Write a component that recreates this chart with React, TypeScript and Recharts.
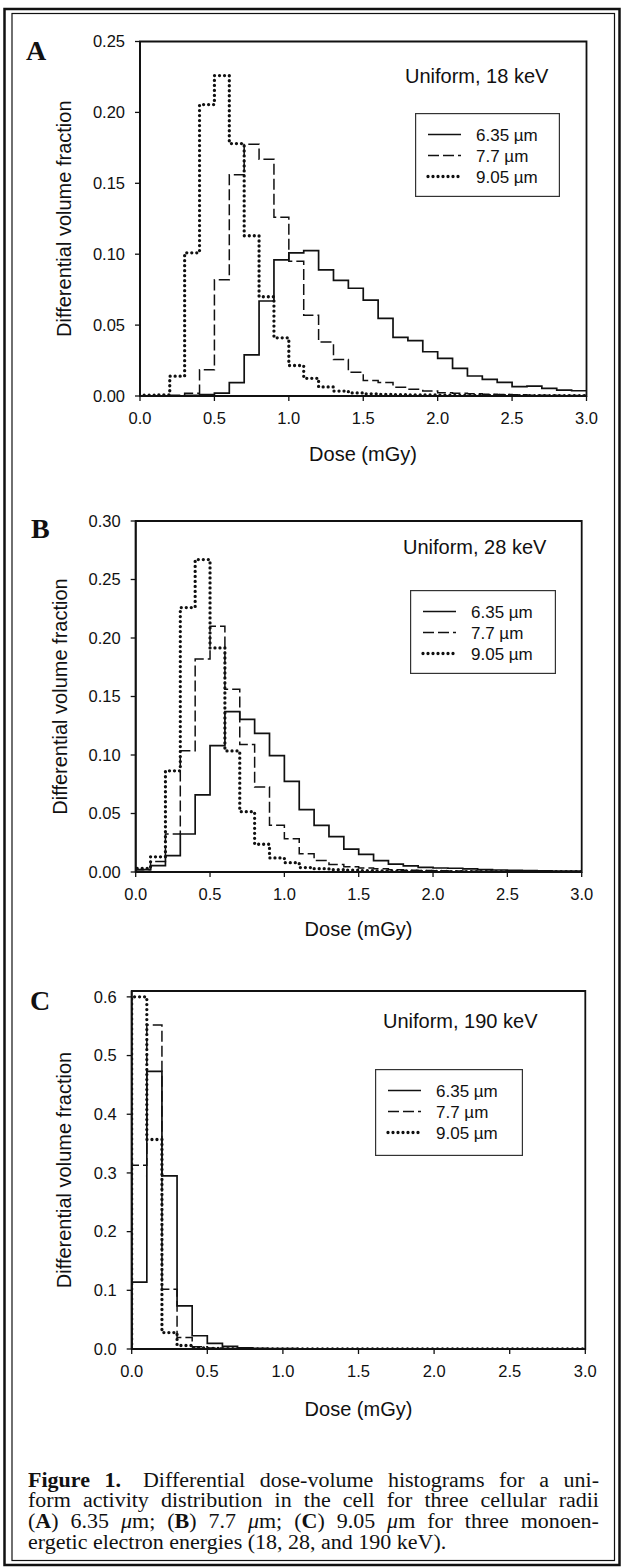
import React from 'react';
import { LineChart, Line, XAxis, YAxis, ReferenceArea, Legend } from 'recharts';

// ---------- data ----------
const doseBinStarts = [0.0, 0.1, 0.2, 0.3, 0.4, 0.5, 0.6, 0.7, 0.8, 0.9, 1.0, 1.1, 1.2, 1.3, 1.4, 1.5, 1.6, 1.7, 1.8, 1.9, 2.0, 2.1, 2.2, 2.3, 2.4, 2.5, 2.6, 2.7, 2.8, 2.9];
const doseEnd = 3.0;
const doseTicks = [0, 0.5, 1.0, 1.5, 2.0, 2.5, 3.0];
const seriesNames = ['6.35 \u00b5m', '7.7 \u00b5m', '9.05 \u00b5m'];

// Panel A: Uniform, 18 keV
const a635 = [0, 0, 0, 0.0005, 0.001, 0.002, 0.0095, 0.029, 0.067, 0.096, 0.101, 0.1025, 0.089, 0.0815, 0.076, 0.0676, 0.0547, 0.0413, 0.039, 0.0312, 0.0265, 0.0195, 0.0141, 0.0117, 0.0096, 0.0066, 0.007, 0.0054, 0.0042, 0.0037];
const a77 = [0, 0, 0.0005, 0.002, 0.0185, 0.082, 0.156, 0.1775, 0.167, 0.126, 0.095, 0.057, 0.038, 0.0258, 0.0168, 0.011, 0.0096, 0.0061, 0.0047, 0.0035, 0.0023, 0.002, 0.0015, 0.0012, 0.001, 0.0008, 0.0006, 0.0005, 0.0004, 0.0003];
const a905 = [0.0006, 0.0008, 0.014, 0.101, 0.2055, 0.226, 0.178, 0.113, 0.07, 0.041, 0.0215, 0.0125, 0.0064, 0.0035, 0.0022, 0.0015, 0.0012, 0.001, 0.0008, 0.0007, 0.0006, 0.0005, 0.0005, 0.0004, 0.0004, 0.0003, 0.0003, 0.0003, 0.0002, 0.0002];
const aYTicks = [0, 0.05, 0.1, 0.15, 0.2, 0.25];

// Panel B: Uniform, 28 keV
const b635 = [0.002, 0.0055, 0.014, 0.0325, 0.066, 0.108, 0.137, 0.1305, 0.1185, 0.0995, 0.0775, 0.0533, 0.0398, 0.0303, 0.0195, 0.015, 0.0098, 0.0068, 0.0052, 0.004, 0.0034, 0.0032, 0.0026, 0.002, 0.0017, 0.0014, 0.0012, 0.001, 0.0008, 0.0007];
const b77 = [0.002, 0.009, 0.0325, 0.1037, 0.182, 0.21, 0.1563, 0.109, 0.0726, 0.04, 0.0285, 0.0157, 0.0098, 0.0064, 0.0045, 0.0035, 0.0028, 0.002, 0.0016, 0.0012, 0.001, 0.0008, 0.0007, 0.0006, 0.0005, 0.0004, 0.0003, 0.0003, 0.0002, 0.0002];
const b905 = [0.003, 0.013, 0.0865, 0.226, 0.267, 0.1915, 0.1035, 0.0516, 0.0237, 0.012, 0.008, 0.0038, 0.0028, 0.002, 0.0015, 0.0012, 0.001, 0.0008, 0.0007, 0.0006, 0.0005, 0.0004, 0.0004, 0.0003, 0.0003, 0.0003, 0.0002, 0.0002, 0.0002, 0.0002];
const bYTicks = [0, 0.05, 0.1, 0.15, 0.2, 0.25, 0.3];

// Panel C: Uniform, 190 keV
const c635 = [0.114, 0.473, 0.295, 0.0734, 0.0226, 0.0096, 0.0045, 0.002, 0.001, 0.0007, 0.0005, 0.0004, 0.0003, 0.0003, 0.0002, 0.0002, 0.0002, 0.0001, 0.0001, 0.0001, 0.0001, 0.0001, 0.0001, 0.0001, 0.0001, 0.0001, 0.0001, 0.0001, 0.0001, 0.0001];
const c77 = [0.313, 0.552, 0.1016, 0.0198, 0.004, 0.0015, 0.0008, 0.0005, 0.0003, 0.0002, 0.0001, 0.0001, 0.0001, 0.0001, 0.0001, 0.0001, 0.0001, 0.0001, 0.0001, 0.0001, 0.0001, 0.0001, 0.0001, 0.0001, 0.0001, 0.0001, 0.0001, 0.0001, 0.0001, 0.0001];
const c905 = [0.6, 0.357, 0.028, 0.006, 0.002, 0.001, 0.0007, 0.0005, 0.0003, 0.0002, 0.0001, 0.0001, 0.0001, 0.0001, 0.0001, 0.0001, 0.0001, 0.0001, 0.0001, 0.0001, 0.0001, 0.0001, 0.0001, 0.0001, 0.0001, 0.0001, 0.0001, 0.0001, 0.0001, 0.0001];
const cYTicks = [0, 0.1, 0.2, 0.3, 0.4, 0.5, 0.6];

// ---------- helpers ----------
const SANS = '"Liberation Sans", Arial, Helvetica, sans-serif';
const SERIF = '"Liberation Serif", "Times New Roman", Times, serif';
const INK = '#111';

type Pt = { x: number; y: number };
function toSteps(vals: number[]): Pt[] {
  const pts: Pt[] = [{ x: 0, y: 0 }];
  vals.forEach((v, i) => pts.push({ x: doseBinStarts[i], y: v }));
  pts.push({ x: doseEnd, y: vals[vals.length - 1] });
  return pts;
}

const lineStyles = [
  { strokeWidth: 1.7, strokeDasharray: undefined as string | undefined, strokeLinecap: 'butt' as const },
  { strokeWidth: 1.5, strokeDasharray: '11 4', strokeLinecap: 'butt' as const },
  { strokeWidth: 3.3, strokeDasharray: '0 5', strokeLinecap: 'round' as const },
];

const LegendBox = ({ w, h }: { w: number; h: number }) => {
  const rows = [21.5, 42.5, 63.5];
  return (
    <svg width={w} height={h} style={{ display: 'block' }}>
      <rect x={0.6} y={0.6} width={w - 1.2} height={h - 1.2} fill="#fff" stroke="#333" strokeWidth={1.2} />
      {seriesNames.map((n, i) => (
        <g key={n}>
          <line x1={13} x2={46} y1={rows[i]} y2={rows[i]} stroke={INK}
            strokeWidth={lineStyles[i].strokeWidth} strokeDasharray={lineStyles[i].strokeDasharray}
            strokeLinecap={lineStyles[i].strokeLinecap} />
          <text x={61} y={rows[i]} dy="0.36em" fontFamily={SANS} fontSize={17} fill={INK}>{n}</text>
        </g>
      ))}
    </svg>
  );
};

type PanelProps = {
  top: number; height: number; yMax: number; yTicks: number[]; decimals: number;
  yAxisWidth: number; marginTop: number; marginRight: number; marginBottom: number;
  series: number[][]; legend: { left: number; top: number; w: number; h: number };
};

const Panel = (p: PanelProps) => (
  <div style={{ position: 'absolute', left: 0, top: p.top, width: 623, height: p.height }}>
    <LineChart width={623} height={p.height}
      margin={{ top: p.marginTop, right: p.marginRight, bottom: p.marginBottom, left: 0 }}>
      <XAxis type="number" dataKey="x" domain={[0, 3]} ticks={doseTicks} allowDataOverflow
        tickFormatter={(v: number) => v.toFixed(1)} interval={0} height={30}
        tickSize={5} tickMargin={11}
        axisLine={{ stroke: INK, strokeWidth: 1.8 }} tickLine={{ stroke: INK, strokeWidth: 1.3 }}
        tick={{ fill: INK, fontSize: 16.5, fontFamily: SANS }} />
      <YAxis type="number" dataKey="y" domain={[0, p.yMax]} ticks={p.yTicks} allowDataOverflow
        tickFormatter={(v: number) => v.toFixed(p.decimals)} interval={0} width={p.yAxisWidth}
        tickSize={5} tickMargin={10}
        axisLine={{ stroke: INK, strokeWidth: 1.8 }} tickLine={{ stroke: INK, strokeWidth: 1.3 }}
        tick={{ fill: INK, fontSize: 16.5, fontFamily: SANS }} />
      <ReferenceArea x1={0} x2={3} y1={0} y2={p.yMax} fill="none" stroke={INK} strokeWidth={1.8} ifOverflow="visible" />
      {p.series.map((vals, i) => (
        <Line key={seriesNames[i]} name={seriesNames[i]} data={toSteps(vals)} dataKey="y" type="stepAfter"
          stroke={INK} strokeWidth={lineStyles[i].strokeWidth} strokeDasharray={lineStyles[i].strokeDasharray}
          strokeLinecap={lineStyles[i].strokeLinecap} dot={false} activeDot={false}
          isAnimationActive={false} />
      ))}
      <Legend layout="horizontal" verticalAlign="middle" align="center"
        wrapperStyle={{ position: 'absolute', left: p.legend.left, top: p.legend.top, width: p.legend.w, height: p.legend.h, margin: 0, padding: 0 }}
        content={() => <LegendBox w={p.legend.w} h={p.legend.h} />} />
    </LineChart>
  </div>
);

export default function App() {
  const SX = 1.1;
  const captionLine: React.CSSProperties = {
    position: 'absolute', left: 28, width: 571 / SX, fontFamily: SERIF, fontSize: 20,
    lineHeight: '20.7px', height: 20.7, whiteSpace: 'nowrap', color: INK,
    transform: `scaleX(${SX})`, transformOrigin: '0 0',
  };
  const just: React.CSSProperties = { textAlign: 'justify', textAlignLast: 'justify' as any, whiteSpace: 'normal' };
  const mu = <span style={{ fontStyle: 'italic' }}>{'\u03bc'}</span>;
  return (
    <div style={{ position: 'absolute', left: 0, top: 0, width: 623, height: 1568, background: '#fff', overflow: 'hidden' }}>
      <Panel top={0} height={480} yMax={0.25} yTicks={aYTicks} decimals={2} yAxisWidth={140}
        marginTop={41.5} marginRight={36.5} marginBottom={54}
        series={[a635, a77, a905]} legend={{ left: 415, top: 113, w: 145, h: 84 }} />
      <Panel top={480} height={470} yMax={0.3} yTicks={bYTicks} decimals={2} yAxisWidth={135.7}
        marginTop={41} marginRight={41.3} marginBottom={48}
        series={[b635, b77, b905]} legend={{ left: 410, top: 110, w: 146, h: 84 }} />
      <Panel top={950} height={460} yMax={0.61} yTicks={cYTicks} decimals={1} yAxisWidth={131.7}
        marginTop={41} marginRight={37.7} marginBottom={31}
        series={[c635, c77, c905]} legend={{ left: 375, top: 119, w: 148, h: 87 }} />

      <svg width={623} height={1568} style={{ position: 'absolute', left: 0, top: 0, pointerEvents: 'none' }}>
        {/* frame */}
        <rect x={4.5} y={9} width={615} height={1556} fill="none" stroke={INK} strokeWidth={2.5} />
        <rect x={12} y={13.5} width={602.5} height={1547} fill="none" stroke={INK} strokeWidth={1.2} />
        {/* panel letters */}
        <text x={26} y={60} fontFamily={SERIF} fontWeight="bold" fontSize={28} fill={INK}>A</text>
        <text x={31} y={538} fontFamily={SERIF} fontWeight="bold" fontSize={28} fill={INK}>B</text>
        <text x={30} y={1010} fontFamily={SERIF} fontWeight="bold" fontSize={28} fill={INK}>C</text>
        {/* annotations */}
        <text x={405} y={82.5} fontFamily={SANS} fontSize={20} fill={INK}>Uniform, 18 keV</text>
        <text x={403} y={553.5} fontFamily={SANS} fontSize={20} fill={INK}>Uniform, 28 keV</text>
        <text x={383} y={1028} fontFamily={SANS} fontSize={20} fill={INK}>Uniform, 190 keV</text>
        {/* axis titles */}
        <text x={363} y={461} textAnchor="middle" fontFamily={SANS} fontSize={20} fill={INK}>Dose (mGy)</text>
        <text x={358.5} y={936} textAnchor="middle" fontFamily={SANS} fontSize={20} fill={INK}>Dose (mGy)</text>
        <text x={358.5} y={1416} textAnchor="middle" fontFamily={SANS} fontSize={20} fill={INK}>Dose (mGy)</text>
        <text transform="rotate(-90)" x={-218.7} y={63.5} dy="0.35em" textAnchor="middle" fontFamily={SANS} fontSize={20} fill={INK}>Differential volume fraction</text>
        <text transform="rotate(-90)" x={-696.5} y={59.5} dy="0.35em" textAnchor="middle" fontFamily={SANS} fontSize={20} fill={INK}>Differential volume fraction</text>
        <text transform="rotate(-90)" x={-1170} y={63.5} dy="0.35em" textAnchor="middle" fontFamily={SANS} fontSize={20} fill={INK}>Differential volume fraction</text>
      </svg>

      <div style={{ ...captionLine, ...just, top: 1469.6 }}>
        <b>Figure 1.</b>{'\u2003'}Differential dose-volume histograms for a uni-
      </div>
      <div style={{ ...captionLine, ...just, top: 1490.3 }}>
        form activity distribution in the cell for three cellular radii
      </div>
      <div style={{ ...captionLine, ...just, top: 1511 }}>
        (<b>A</b>) 6.35 {mu}m; (<b>B</b>) 7.7 {mu}m; (<b>C</b>) 9.05 {mu}m for three monoen-
      </div>
      <div style={{ ...captionLine, top: 1531.7 }}>
        ergetic electron energies (18, 28, and 190 keV).
      </div>
    </div>
  );
}
